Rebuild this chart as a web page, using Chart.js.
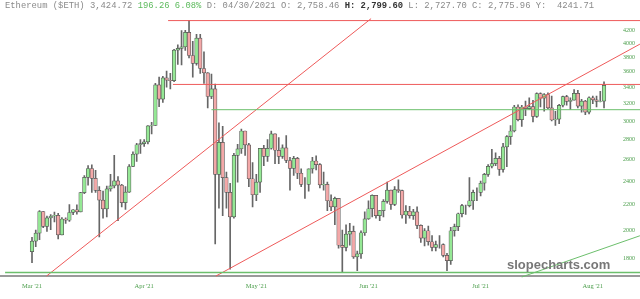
<!DOCTYPE html>
<html>
<head>
<meta charset="utf-8">
<script src="https://cdn.jsdelivr.net/npm/chart.js@4.4.0/dist/chart.umd.min.js"></script>
<style>
  html, body { margin: 0; padding: 0; background: #fff; }
  #wrap { position: relative; width: 640px; height: 299px; }
  #header { position: absolute; left: 5px; top: 1px; font: 8.85px "Liberation Mono", monospace; color: #8a8a8a; white-space: pre; }
  #header .up { color: #5cba5c; }
  #header b { color: #333; }
  #mark { position: absolute; left: 507px; top: 257px; font: bold 13px "Liberation Sans", sans-serif; color: #777; }
</style>
</head>
<body>
<div id="wrap">
  <canvas id="ethChart" width="640" height="299"></canvas>
  <div id="header">Ethereum ($ETH) 3,424.72 <span class="up">196.26 6.08%</span> D: 04/30/2021 O: 2,758.46 <b>H: 2,799.60</b> L: 2,727.70 C: 2,775.96 Y:  4241.71</div>
  <div id="mark">slopecharts.com</div>
</div>
<script>
// Daily candles, index 0 = first candle on the left.
var opens = [1846,1919,1977,2143,2028,2093,2107,2112,1964,2084,2074,2135,2157,2139,2299,2432,2514,2423,2317,2235,
  2164,2331,2357,2402,2364,2214,2303,2533,2651,2746,2758,2776,2945,2950,3431,3253,3522,3490,3484,3903,
  3928,3952,4169,3826,3716,4080,3646,3587,3285,3380,2460,2770,2430,2300,2100,2640,2705,2890,2745,2420,
  2280,2390,2710,2630,2710,2860,2690,2630,2715,2590,2515,2610,2470,2370,2370,2510,2585,2550,2365,2370,
  2230,2180,2250,1890,1875,1970,1990,1810,1830,1980,2085,2165,2275,2110,2150,2225,2320,2200,2325,2315,
  2115,2145,2110,2140,2035,1940,1995,1915,1875,1895,1895,1820,1785,1995,2025,2125,2190,2190,2230,2300,
  2300,2380,2460,2535,2560,2610,2505,2725,2830,2890,3160,3015,3160,3140,3165,3050,3320,3265,3310,3150,
  3010,3020,3180,3285,3225,3240,3325,3170,3230,3100,3270,3245,3225,3228];
var highs = [1947,1999,2151,2145,2106,2118,2138,2129,2095,2092,2198,2159,2196,2300,2448,2542,2548,2497,2350,2311,
  2354,2459,2641,2440,2370,2350,2550,2675,2760,2800,2800,2950,2985,3450,3530,3541,3610,3580,3915,3980,
  4197,4200,4362,4032,4140,4140,3880,3590,3570,3440,2980,2940,2480,2380,2660,2750,2910,2890,2760,2570,
  2460,2710,2740,2800,2890,2860,2820,2745,2840,2620,2630,2620,2510,2430,2510,2620,2635,2560,2480,2390,
  2280,2260,2250,2000,2040,2050,2030,1850,1995,2140,2230,2280,2275,2150,2240,2390,2320,2350,2410,2320,
  2190,2185,2160,2180,2040,2010,2030,1960,1920,1960,1900,1835,2020,2045,2130,2200,2195,2430,2320,2340,
  2400,2470,2550,2700,2665,2630,2760,2840,2950,3180,3185,3180,3230,3270,3240,3330,3330,3320,3330,3290,
  3110,3190,3290,3300,3270,3370,3360,3250,3240,3280,3290,3290,3350,3470];
var lows = [1772,1880,1930,2017,1990,2003,2061,1935,1964,2050,2066,2117,2121,2139,2290,2362,2300,2300,1950,2090,
  2100,2311,2340,2070,2180,2160,2300,2530,2580,2660,2728,2755,2860,2950,3163,3215,3400,3380,3470,3700,
  3695,3900,3790,3530,3690,3580,3450,3150,3260,1900,2170,2110,2170,1730,2090,2390,2660,2640,2350,2180,
  2230,2300,2540,2580,2700,2560,2560,2610,2570,2320,2450,2420,2350,2250,2310,2470,2500,2340,2320,2150,
  2150,2040,1870,1710,1850,1890,1800,1720,1800,1960,2080,2100,2090,2070,2100,2210,2160,2190,2300,2090,
  2050,2090,2080,2010,1910,1885,1890,1850,1850,1870,1810,1720,1760,1955,1995,2100,2120,2180,2160,2230,
  2270,2320,2440,2520,2540,2450,2480,2530,2750,2880,3000,2940,3060,3130,2990,3040,3160,3110,3140,3000,
  2950,2970,3160,3180,3130,3240,3150,3100,3070,3080,3200,3160,3220,3150];
var closes = [1919,1977,2143,2028,2093,2107,2112,1964,2084,2074,2135,2157,2139,2299,2432,2514,2423,2317,2235,2164,
  2331,2357,2402,2364,2214,2303,2533,2651,2746,2757,2776,2945,2950,3431,3253,3522,3490,3484,3903,3928,
  3952,4169,3826,3716,4080,3646,3587,3285,3380,2460,2770,2430,2300,2100,2640,2705,2890,2745,2420,2280,
  2390,2710,2630,2710,2860,2690,2630,2715,2590,2515,2610,2470,2370,2370,2510,2585,2550,2365,2370,2230,
  2180,2250,1890,1875,1970,1990,1810,1830,1980,2085,2165,2275,2110,2150,2225,2320,2200,2325,2315,2115,
  2145,2110,2140,2035,1940,1995,1915,1875,1895,1895,1820,1785,1995,2025,2125,2190,2190,2230,2300,2300,
  2380,2460,2535,2560,2610,2505,2725,2830,2890,3160,3015,3160,3140,3165,3050,3320,3265,3310,3150,3010,
  3020,3180,3285,3225,3240,3325,3170,3230,3100,3270,3245,3225,3228,3425];

// Axis ticks.
var yTicks = [1800, 2000, 2200, 2400, 2600, 2800, 3000, 3200, 3400, 3600, 3800, 4000, 4200];
var xTickDays = [0, 30, 60, 90, 120, 150];
var xTickLabels = ["Mar '21", "Apr '21", "May '21", "Jun '21", "Jul '21", "Aug '21"];

// Drawn lines, as [day, price] end points.
var topLine = [[36.4, 4356], [170, 4356]];
var resistLine = [[37.7, 3436], [170, 3436]];
var supportLine = [[48, 3128], [170, 3128]];
var lowLine = [[-7.2, 1708], [170, 1708]];
var trendA = [[3.9, 1686], [90.7, 4388]];
var trendB = [[49.2, 1686], [162.6, 3991]];
var trendC = [[131, 1680], [162.6, 1958]];
var baseLine = [[-10, 1686], [170, 1686]];

var RED = "#ee5a5a";
var GREEN = "#6cbf6c";

// Turns [day, price] pairs into a line dataset.
function lineSet(points, color, width) {
  return {
    type: "line",
    data: points.map(p => ({ x: p[0], y: p[1] })),
    borderColor: color,
    borderWidth: width,
    pointRadius: 0,
    fill: false,
    clip: { left: 5, top: 0, right: 30, bottom: 2 }
  };
}

var bodies = [];
var wicks = [];
var bodyColors = [];
for (var i = 0; i < opens.length; i++) {
  bodies.push({ x: i, y: [opens[i], closes[i]] });
  wicks.push({ x: i, y: [lows[i], highs[i]] });
  bodyColors.push(closes[i] >= opens[i] ? "#95e895" : "#f3a8a8");
}

var config = {
  type: "bar",
  data: {
    datasets: [
      lineSet(topLine, RED, 1),
      lineSet(resistLine, RED, 1),
      lineSet(supportLine, GREEN, 1),
      lineSet(lowLine, GREEN, 1.5),
      lineSet(trendA, RED, 1),
      lineSet(trendB, RED, 1),
      lineSet(trendC, GREEN, 1),
      lineSet(baseLine, "#9a9a9a", 2),
      {
        data: bodies,
        backgroundColor: bodyColors,
        borderColor: "#555",
        borderWidth: 0.7,
        borderSkipped: false,
        barThickness: 3.6,
        grouped: false
      },
      {
        data: wicks,
        backgroundColor: "#666",
        barThickness: 1,
        grouped: false
      }
    ]
  },
  options: {
    animation: false,
    responsive: false,
    layout: { padding: { top: 12, left: 0, right: 0, bottom: 0 } },
    plugins: { legend: { display: false }, tooltip: { enabled: false } },
    scales: {
      x: {
        type: "linear",
        offset: false,
        min: -8.56,
        max: 154.6,
        grid: { display: false, drawTicks: false },
        border: { display: false },
        afterFit: axis => { axis.height = 23; },
        afterBuildTicks: axis => { axis.ticks = xTickDays.map(d => ({ value: d })); },
        ticks: {
          autoSkip: false,
          maxRotation: 0,
          padding: 6,
          color: "#4a9d4a",
          font: { family: "Liberation Serif", size: 6.5 },
          callback: v => xTickLabels[xTickDays.indexOf(v)]
        }
      },
      y: {
        type: "logarithmic",
        position: "right",
        min: 1686,
        max: 4421,
        grid: { display: false, drawTicks: false },
        border: { display: false },
        afterFit: axis => { axis.width = 30; },
        afterBuildTicks: axis => { axis.ticks = yTicks.map(v => ({ value: v })); },
        ticks: {
          autoSkip: false,
          padding: 13,
          color: "#4a9d4a",
          font: { family: "Liberation Serif", size: 6 },
          callback: v => String(v)
        }
      }
    }
  }
};

var myChart = new Chart(document.getElementById("ethChart"), config);
</script>
</body>
</html>
